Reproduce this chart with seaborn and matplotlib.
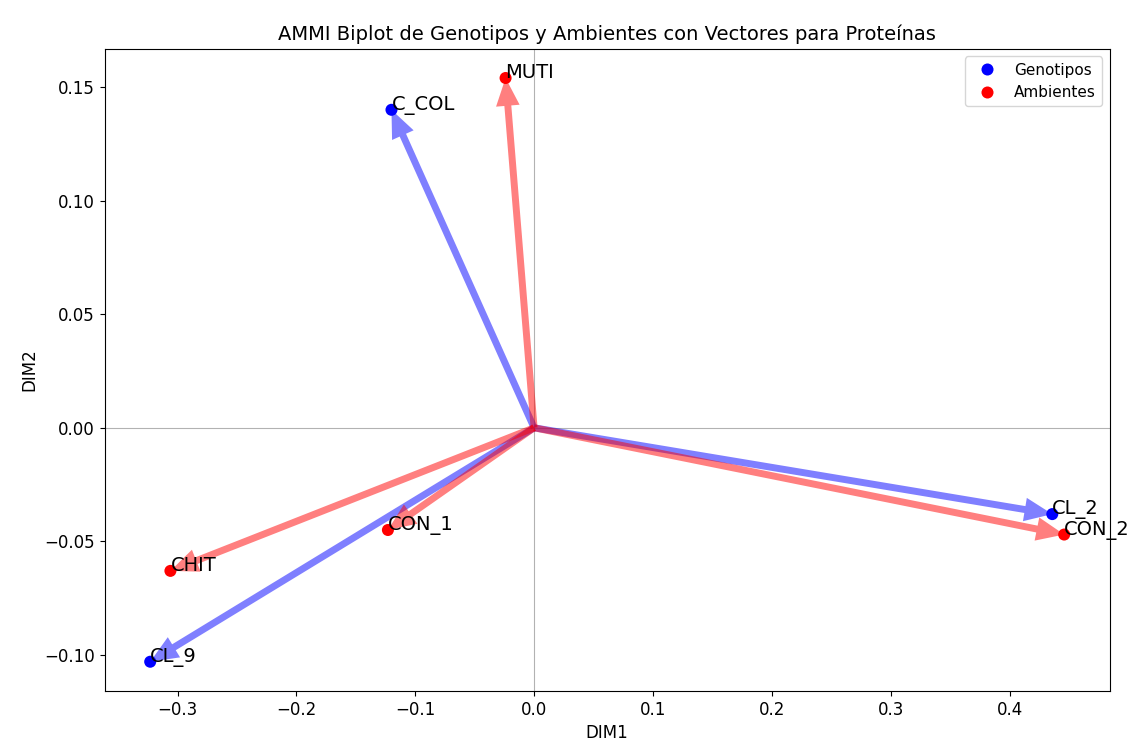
import pandas as pd
import seaborn as sns
import matplotlib.pyplot as plt

genotipos = ['C_COL', 'CL_2', 'CL_9']
gen_dim1 = [-0.120, 0.436, -0.323]
gen_dim2 = [0.140, -0.038, -0.103]

ambientes = ['MUTI', 'CON_1', 'CON_2', 'CHIT']
amb_dim1 = [-0.024, -0.123, 0.446, -0.306]
amb_dim2 = [0.154, -0.045, -0.047, -0.063]

df = pd.DataFrame({
    'Nombre': genotipos + ambientes,
    'DIM1': gen_dim1 + amb_dim1,
    'DIM2': gen_dim2 + amb_dim2,
    'Tipo': ['Genotipos'] * len(genotipos) + ['Ambientes'] * len(ambientes),
})

fig, ax = plt.subplots(figsize=(11.36, 7.51), dpi=100)

ax.axhline(0, color='grey', linewidth=0.8, alpha=0.6, zorder=0)
ax.axvline(0, color='grey', linewidth=0.8, alpha=0.6, zorder=0)

# vectors from the origin
for _, row in df.iterrows():
    col = 'blue' if row['Tipo'] == 'Genotipos' else 'red'
    ax.annotate('', xy=(row['DIM1'], row['DIM2']), xytext=(0, 0),
                arrowprops=dict(facecolor=col, edgecolor='none', alpha=0.5,
                                width=5, headwidth=17, headlength=20, shrink=0))

sns.scatterplot(data=df, x='DIM1', y='DIM2', hue='Tipo',
                palette={'Genotipos': 'blue', 'Ambientes': 'red'},
                s=75, linewidth=0, ax=ax, zorder=3)

for _, row in df.iterrows():
    ax.text(row['DIM1'], row['DIM2'], row['Nombre'], fontsize=14)

ax.legend(title=None, loc='upper right', fontsize=11)
ax.set_title('AMMI Biplot de Genotipos y Ambientes con Vectores para Proteínas', fontsize=14)
ax.set_xlabel('DIM1', fontsize=12)
ax.set_ylabel('DIM2', fontsize=12)
ax.tick_params(labelsize=12)

plt.subplots_adjust(left=0.092, right=0.977, top=0.935, bottom=0.08)
plt.savefig('out.png', dpi=100)
